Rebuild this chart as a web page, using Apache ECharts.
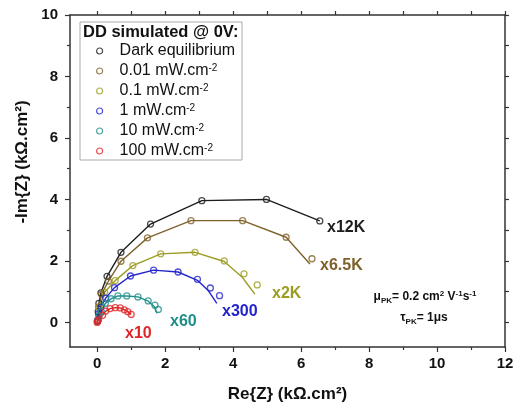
<!DOCTYPE html>
<html>
<head>
<meta charset="utf-8">
<script src="https://cdn.jsdelivr.net/npm/echarts@6/dist/echarts.min.js"></script>
<style>
  html, body { margin: 0; padding: 0; background: #fff; }
  #chart { width: 515px; height: 406px; }
</style>
</head>
<body>
<div id="chart"></div>
<script>
// tick values
var xMajor = [0, 2, 4, 6, 8, 10, 12]
var xMinor = [1, 3, 5, 7, 9, 11]
var yMajor = [0, 2, 4, 6, 8, 10]
var yMinor = [1, 3, 5, 7, 9]

// legend names
var names = ['Dark equilibrium', '0.01 mW.cm-2', '0.1 mW.cm-2', '1 mW.cm-2', '10 mW.cm-2', '100 mW.cm-2']
var colors = ['#1e1e1e', '#7f622b', '#9c9c22', '#2424cc', '#1f8e88', '#e02626']

// simulated points (scaled), [Re, -Im] in kOhm.cm2
var darkPts = [[0.01, 0.05], [0.03, 0.35], [0.05, 0.62], [0.11, 0.96], [0.29, 1.50], [0.70, 2.28], [1.57, 3.20], [3.08, 3.96], [4.98, 4.00], [6.55, 3.30]]
var p001Pts = [[0.01, 0.06], [0.04, 0.5], [0.13, 0.92], [0.33, 1.34], [0.70, 1.99], [1.48, 2.75], [2.76, 3.31], [4.28, 3.31], [5.56, 2.77], [6.32, 2.07]]
var p01Pts = [[0.01, 0.05], [0.06, 0.5], [0.22, 0.98], [0.53, 1.36], [1.05, 1.85], [1.87, 2.23], [2.88, 2.28], [3.74, 2.00], [4.32, 1.58], [4.71, 1.22]]
var p1Pts = [[0.01, 0.05], [0.04, 0.28], [0.11, 0.50], [0.25, 0.79], [0.51, 1.13], [0.98, 1.51], [1.66, 1.70], [2.38, 1.64], [2.95, 1.40], [3.33, 1.12], [3.60, 0.87]]
var p10Pts = [[0.01, 0.04], [0.05, 0.20], [0.12, 0.36], [0.24, 0.62], [0.41, 0.77], [0.61, 0.86], [0.87, 0.86], [1.20, 0.83], [1.50, 0.70], [1.70, 0.56], [1.80, 0.42]]
var p100Pts = [[0.0, 0.0], [0.01, 0.04], [0.04, 0.09], [0.16, 0.23], [0.25, 0.37], [0.38, 0.45], [0.53, 0.48], [0.68, 0.47], [0.80, 0.41], [0.90, 0.35], [1.00, 0.26]]

// fitted curves
var darkFit = darkPts
var p001Fit = [[0.01, 0.06], [0.04, 0.5], [0.13, 0.92], [0.33, 1.34], [0.70, 1.99], [1.48, 2.75], [2.76, 3.31], [4.28, 3.31], [5.56, 2.77], [6.26, 1.90]]
var p01Fit = [[0.01, 0.05], [0.06, 0.5], [0.22, 0.98], [0.53, 1.36], [1.05, 1.85], [1.87, 2.23], [2.88, 2.28], [3.74, 1.98], [4.26, 1.48], [4.45, 1.20], [4.64, 0.92]]
var p1Fit = [[0.01, 0.05], [0.04, 0.28], [0.11, 0.50], [0.25, 0.79], [0.51, 1.13], [0.98, 1.51], [1.66, 1.70], [2.38, 1.64], [2.95, 1.37], [3.28, 1.02], [3.52, 0.62]]
var p10Fit = [[0.01, 0.04], [0.05, 0.20], [0.12, 0.36], [0.24, 0.62], [0.41, 0.77], [0.61, 0.86], [0.87, 0.86], [1.20, 0.83], [1.50, 0.69], [1.68, 0.52], [1.76, 0.30]]
var p100Fit = p100Pts

var allPts = [darkPts, p001Pts, p01Pts, p1Pts, p10Pts, p100Pts]
var allFits = [darkFit, p001Fit, p01Fit, p1Fit, p10Fit, p100Fit]

var chart = echarts.init(document.getElementById('chart'))

var font = 'Liberation Sans, Arial, sans-serif'

function mkX (pos, ticks, len, line, labels) {
  return {
    type: 'value', min: -0.8, max: 12, position: pos,
    axisLine: { show: line, onZero: false, lineStyle: { color: '#333', width: 1.5 } },
    axisTick: { show: true, customValues: ticks, length: len, lineStyle: { color: '#333', width: 1.2 } },
    axisLabel: labels ? { customValues: labels, color: '#111', fontWeight: 'bold', fontSize: 15, fontFamily: font, margin: 9 } : { show: false },
    splitLine: { show: false }
  }
}
function mkY (pos, ticks, len, line, labels) {
  return {
    type: 'value', min: -0.8, max: 10, position: pos,
    axisLine: { show: line, onZero: false, lineStyle: { color: '#333', width: 1.5 } },
    axisTick: { show: true, customValues: ticks, length: len, lineStyle: { color: '#333', width: 1.2 } },
    axisLabel: labels ? { customValues: labels, color: '#111', fontWeight: 'bold', fontSize: 15, fontFamily: font, margin: 12 } : { show: false },
    splitLine: { show: false }
  }
}

var series = []
allFits.forEach(function (d, i) {
  series.push({
    type: 'line', data: d, showSymbol: false, symbol: 'none',
    lineStyle: { color: colors[i], width: 1.4 }, z: 2, silent: true
  })
})
allPts.forEach(function (d, i) {
  series.push({
    name: names[i], type: 'scatter', data: d, symbol: 'circle', symbolSize: 6,
    itemStyle: { color: 'rgba(255,255,255,0)', borderColor: colors[i], borderWidth: 1.3 }, z: 3
  })
})

var curveLabels = [
  { text: 'x12K', x: 327, y: 228, c: colors[0] },
  { text: 'x6.5K', x: 320, y: 266, c: colors[1] },
  { text: 'x2K', x: 272, y: 294, c: colors[2] },
  { text: 'x300', x: 222, y: 312, c: colors[3] },
  { text: 'x60', x: 170, y: 322, c: colors[4] },
  { text: 'x10', x: 125, y: 334, c: colors[5] }
]

var graphics = [
  { type: 'rect', shape: { x: 80, y: 22, width: 162, height: 138 }, style: { fill: 'none', stroke: '#aaa', lineWidth: 1 }, z: 10 },
  { type: 'text', x: 83, y: 32, style: { text: 'DD simulated @ 0V:', font: 'bold 16.5px ' + font, fill: '#111', textVerticalAlign: 'middle' }, z: 10 },
  {
    type: 'text', x: 22, y: 162, rotation: Math.PI / 2,
    style: {
      text: '-Im{Z} (kΩ.cm²)', font: 'bold 17px ' + font, fill: '#111',
      textAlign: 'center', textVerticalAlign: 'middle'
    }
  },
  {
    type: 'text', x: 425, y: 297,
    style: {
      text: '{b|μ}{d|PK}{b|= 0.2 cm}{u|2}{b| V}{u|-1}{b|s}{u|-1}', textAlign: 'center', textVerticalAlign: 'middle',
      rich: {
        b: { font: 'bold 12px ' + font, fill: '#111', lineHeight: 15 },
        d: { font: 'bold 8px ' + font, fill: '#111', verticalAlign: 'bottom', lineHeight: 9 },
        u: { font: 'bold 8px ' + font, fill: '#111', verticalAlign: 'top', lineHeight: 9 }
      }
    }
  },
  {
    type: 'text', x: 424, y: 318,
    style: {
      text: '{b|τ}{d|PK}{b|= 1μs}', textAlign: 'center', textVerticalAlign: 'middle',
      rich: {
        b: { font: 'bold 12px ' + font, fill: '#111', lineHeight: 15 },
        d: { font: 'bold 8px ' + font, fill: '#111', verticalAlign: 'bottom', lineHeight: 9 }
      }
    }
  }
]
curveLabels.forEach(function (l) {
  graphics.push({ type: 'text', x: l.x, y: l.y, style: { text: l.text, font: 'bold 16px ' + font, fill: l.c, textVerticalAlign: 'middle' } })
})

chart.setOption({
  animation: false,
  backgroundColor: '#fff',
  grid: { left: 70, right: 10, top: 15, bottom: 59, outerBoundsMode: 'none', containLabel: false },
  xAxis: [
    Object.assign(mkX('bottom', xMajor, 5, true, xMajor), {
      name: 'Re{Z} (kΩ.cm²)', nameLocation: 'middle', nameGap: 39,
      nameTextStyle: { fontFamily: font, fontWeight: 'bold', fontSize: 17, color: '#111' }
    }),
    mkX('bottom', xMinor, 3, false, null),
    mkX('top', xMajor.concat(xMinor), 4, true, null)
  ],
  yAxis: [
    mkY('left', yMajor, 5, true, yMajor),
    mkY('left', yMinor, 3, false, null),
    mkY('right', yMajor.concat(yMinor), 4, true, null)
  ],
  legend: {
    data: names, orient: 'vertical', left: 96, top: 43, padding: 0, itemGap: 4,
    itemWidth: 30, itemHeight: 6, icon: 'circle', selectedMode: false,
    itemStyle: { color: 'rgba(255,255,255,0)', borderColor: 'inherit', borderWidth: 1.2 },
    formatter: function (n) {
      if (n.indexOf('-2') < 0) return '{n|' + n + '}'
      return '{n|' + n.replace('-2', '') + '}{s|-2}'
    },
    textStyle: {
      rich: {
        n: { fontFamily: font, fontSize: 16, color: '#111', lineHeight: 16 },
        s: { fontFamily: font, fontSize: 10, color: '#111', verticalAlign: 'top', lineHeight: 10 }
      }
    }
  },
  graphic: graphics,
  series: series
})
</script>
</body>
</html>
